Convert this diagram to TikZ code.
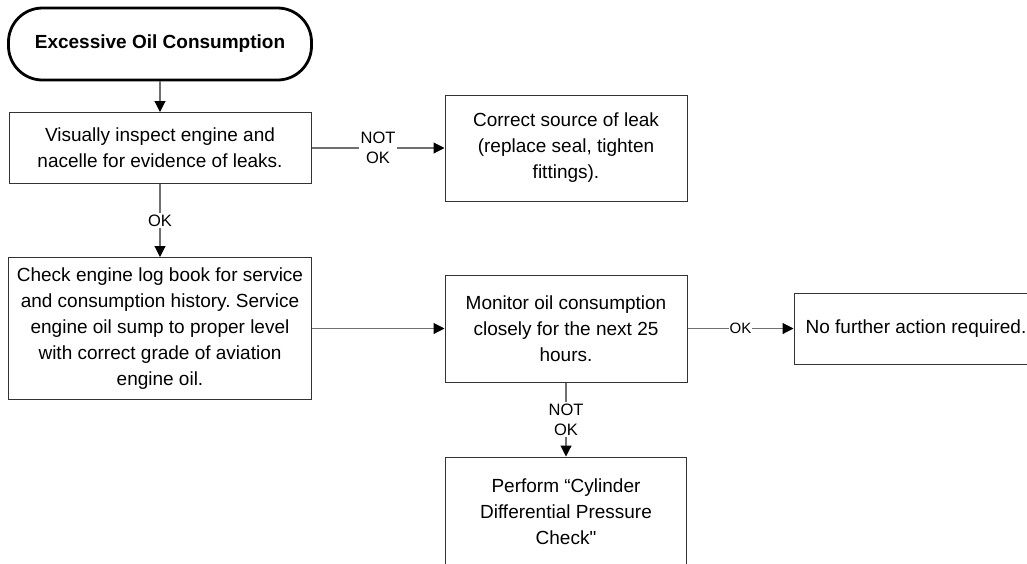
\documentclass[tikz,border=0pt]{standalone}
\usepackage{fontspec}
\setmainfont{Liberation Sans}
\usetikzlibrary{arrows.meta}
\definecolor{boxgray}{HTML}{333333}
\definecolor{linegray}{HTML}{707070}
\tikzset{
  box/.style={draw=boxgray, line width=1pt, align=center, inner sep=0pt,
    font=\fontsize{19}{26}\selectfont},
  startbox/.style={draw=black, line width=2.8pt, rounded corners=34pt, align=center,
    inner sep=0pt, font=\bfseries\fontsize{19}{24}\selectfont},
  conn/.style={draw=linegray, line width=1.1pt,
    -{Triangle[length=11pt,width=11pt,color=black,fill=black]}},
  lbl/.style={fill=white, inner sep=1.5pt, align=center,
    font=\fontsize{16.5}{20}\selectfont},
  lblsmall/.style={fill=white, inner sep=0.8pt, font=\fontsize{15}{18}\selectfont}
}
\newcommand{\straightquote}{\XeTeXglyph\XeTeXcharglyph"0022\relax}
\frenchspacing
\begin{document}
\begin{tikzpicture}[x=1pt,y=-1pt]
\useasboundingbox (0,0) rectangle (1027,563);
\clip (0,0) rectangle (1027,563);
\node[startbox, minimum width=303pt, minimum height=72pt] (start) at (160,44) {Excessive Oil Consumption};
\node[box, minimum width=302pt, minimum height=71pt] (inspect) at (160,148)
  {Visually inspect engine and\\nacelle for evidence of leaks.};
\node[box, minimum width=242pt, minimum height=106pt] (leak) at (566,148)
  {Correct source of leak\\(replace seal, tighten\\fittings).};
\node[box, minimum width=303pt, minimum height=142pt] (log) at (160,328.5)
  {Check engine log book for service\\and consumption history. Service\\engine oil sump to proper level\\with correct grade of aviation\\engine oil.};
\node[box, minimum width=242pt, minimum height=107pt] (monitor) at (566,328.5)
  {Monitor oil consumption\\closely for the next 25\\hours.};
\node[box, minimum width=244pt, minimum height=71pt] (noaction) at (916,328.5)
  {No further action required.};
\node[box, minimum width=241pt, minimum height=109pt] (perform) at (566,511.5)
  {Perform “Cylinder\\Differential Pressure\\Check\straightquote};
\draw[conn] (start.south) -- (inspect.north);
\draw[conn] (inspect.east) -- node[lbl] {NOT\\OK} (leak.west);
\draw[conn] (inspect.south) -- node[lbl] {OK} (log.north);
\draw[conn] (log.east) -- (monitor.west);
\draw[conn] (monitor.east) -- node[lblsmall] {OK} (noaction.west);
\draw[conn] (monitor.south) -- node[lbl] {NOT\\OK} (perform.north);
\end{tikzpicture}
\end{document}
